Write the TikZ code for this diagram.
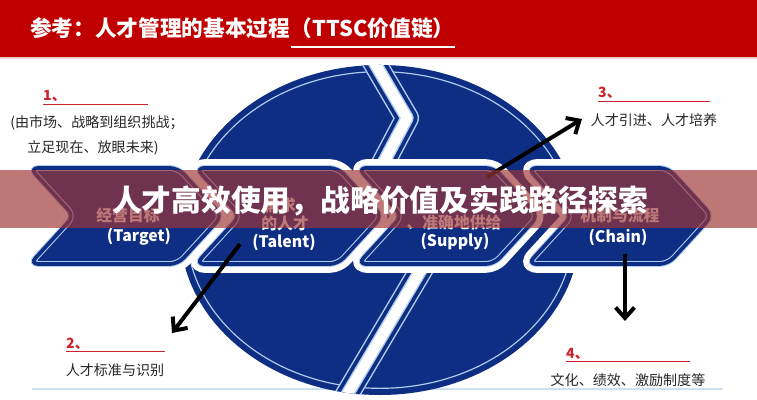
\documentclass[tikz,border=0pt]{standalone}
\usepackage{fontspec}
\setmainfont{Noto Sans CJK SC}
\usetikzlibrary{arrows.meta}
\definecolor{barred}{RGB}{192,0,0}
\definecolor{navy}{RGB}{14,46,132}
\definecolor{edgeblue}{RGB}{175,205,238}
\definecolor{numred}{RGB}{205,35,45}
\definecolor{veil}{RGB}{159,54,54}
\definecolor{rulecol}{RGB}{205,225,242}

\tikzset{
  band/.style={fill=navy, draw=edgeblue, line width=0.9pt, double=navy, double distance=3.2pt, rounded corners=7pt},
  bandgap/.style={draw=white, line width=15pt, rounded corners=7pt, line join=round},
  title/.style={text=white, font=\bfseries\fontsize{18.5}{20}\selectfont, inner sep=0pt},
  lab/.style={text=white, font=\bfseries\fontsize{13.5}{15}\selectfont, inner sep=0pt},
  num/.style={text=numred, font=\bfseries\fontsize{12}{14}\selectfont, anchor=base west, inner sep=0pt},
  note/.style={text=black!85, font=\fontsize{12}{14}\selectfont, inner sep=0pt},
  numline/.style={numred, line width=0.8pt},
  pointer/.style={line width=3.4pt, -{Straight Barb[length=9pt,width=16pt]}}
}

\begin{document}
\begin{tikzpicture}[x=0.03cm, y=-0.03cm]
  \useasboundingbox (0,0) rectangle (757,400);

  % title bar
  \fill[barred] (0,0) rectangle (757,57);
  \fill[barred!20] (0,57) rectangle (757,59);
  \node[title, anchor=west] (title) at (30,28) {参考：人才管理的基本过程};
  \node[title, anchor=west] (tsc) at (title.east) {（TTSC价值链）};
  \draw[white, line width=1.2pt] (tsc.west |- 0,47) -- (tsc.east |- 0,47);

  % rule at the bottom
  \draw[rulecol, line width=1pt] (32,389) -- (723,389);

  % the big disc
  \fill[navy] (380,230) ellipse [x radius=6cm, y radius=4.95cm];
  \draw[edgeblue, line width=1pt] (380,230) ellipse [x radius=5.8cm, y radius=4.75cm];

  % gaps that split the disc
  \begin{scope}
    \clip (380,230) ellipse [x radius=6cm, y radius=4.95cm];
    \draw[edgeblue, line width=20.5pt, line join=round] (370,55) -- (407,118) -- (377,175);
    \draw[navy, line width=18pt, line join=round] (370,55) -- (407,118) -- (377,175);
    \draw[edgeblue, line width=11.5pt, line join=round] (370,55) -- (407,118) -- (377,175);
    \draw[white, line width=9pt, line join=round] (370,55) -- (407,118) -- (377,175);
    \draw[edgeblue, line width=20.5pt] (428,258) -- (338,410);
    \draw[navy, line width=18pt] (428,258) -- (338,410);
    \draw[edgeblue, line width=11.5pt] (428,258) -- (338,410);
    \draw[white, line width=9pt] (428,258) -- (338,410);
  \end{scope}

  % white room round the four chevrons
  \draw[bandgap] (30,168) -- (74,216) -- (30,264) -- (178,264) -- (222,216) -- (178,168) -- cycle;
  \draw[bandgap] (196,168) -- (240,216) -- (196,264) -- (338,264) -- (382,216) -- (338,168) -- cycle;
  \draw[bandgap] (358,168) -- (402,216) -- (358,264) -- (494,264) -- (538,216) -- (494,168) -- cycle;
  \draw[bandgap] (528,168) -- (572,216) -- (528,264) -- (668,264) -- (712,216) -- (668,168) -- cycle;

  % the four chevrons
  \draw[band] (30,168) -- (74,216) -- (30,264) -- (178,264) -- (222,216) -- (178,168) -- cycle;
  \draw[band] (196,168) -- (240,216) -- (196,264) -- (338,264) -- (382,216) -- (338,168) -- cycle;
  \draw[band] (358,168) -- (402,216) -- (358,264) -- (494,264) -- (538,216) -- (494,168) -- cycle;
  \draw[band] (528,168) -- (572,216) -- (528,264) -- (668,264) -- (712,216) -- (668,168) -- cycle;

  % chevron labels
  \node[lab] (targetcn) at (128,215) {经营目标};
  \node[lab] (target) at (139,237) {(Target)};
  \node[lab] (talentcn0) at (280,205) {需求};
  \node[lab] (talentcn) at (285,223) {的人才};
  \node[lab] (talent) at (284,242) {(Talent)};
  \node[lab] (supplycn) at (454,222) {、准确地供给};
  \node[lab] (supply) at (455,242) {(Supply)};
  \node[lab] (chaincn) at (620,215) {机制与流程};
  \node[lab] (chain) at (618,237) {(Chain)};

  % arrows out of the chevrons
  \coordinate (talentfoot) at (240,244);
  \coordinate (tip2) at (172,333);
  \coordinate (supplyfoot) at (487,177);
  \coordinate (tip3) at (582,119);
  \coordinate (chainfoot) at (625,254);
  \coordinate (tip4) at (625,321);
  \draw[pointer] (talentfoot) -- (tip2);
  \draw[pointer] (supplyfoot) -- (tip3);
  \draw[pointer] (chainfoot) -- (tip4);

  % the veil across the middle
  \fill[veil, opacity=0.67] (0,170) rectangle (757,228);
  \node[text=white, font=\bfseries\fontsize{25.4}{28}\selectfont, inner sep=0pt] (veiltext) at (380,201) {人才高效使用，战略价值及实践路径探索};

  % 1
  \node[num] (n1) at (43,101) {1、};
  \draw[numline] (n1.west |- 0,104) -- (148,104);
  \node[note] (n1a) at (97,123) {(由市场、战略到组织挑战；};
  \node[note] (n1b) at (93,148) {立足现在、放眼未来)};
  % 2
  \node[num] (n2) at (66,348) {2、};
  \draw[numline] (n2.west |- 0,351) -- (165,351);
  \node[note] (n2a) at (115,370) {人才标准与识别};
  % 3
  \node[num] (n3) at (598,98) {3、};
  \draw[numline] (n3.west |- 0,101) -- (710,101);
  \node[note] (n3a) at (654,120) {人才引进、人才培养};
  % 4
  \node[num] (n4) at (566,358) {4、};
  \draw[numline] (n4.west |- 0,361) -- (690,361);
  \node[note] (n4a) at (628,380) {文化、绩效、激励制度等};
\end{tikzpicture}
\end{document}
